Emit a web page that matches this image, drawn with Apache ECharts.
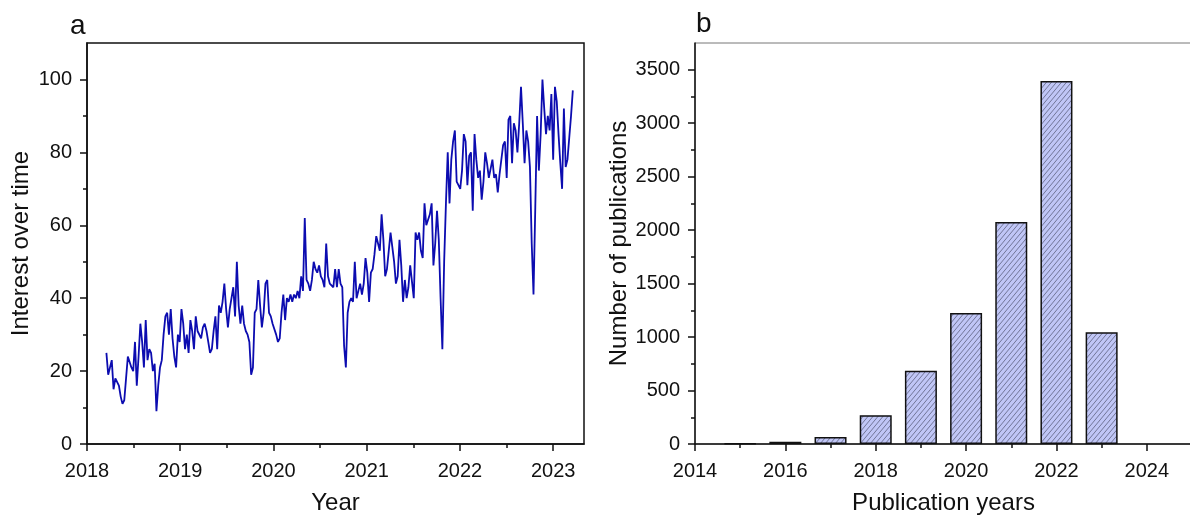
<!DOCTYPE html>
<html>
<head>
<meta charset="utf-8">
<script src="https://cdn.jsdelivr.net/npm/echarts@6/dist/echarts.min.js"></script>
<style>
html,body{margin:0;padding:0;background:#fff;}
#c{width:1190px;height:516px;}
</style>
</head>
<body>
<div id="c"></div>
<script>
// ---- Data ----
// Panel a: weekly "interest over time" (Google Trends style), first week ~ mid-March 2018
const weekStart = '2018-03-18';
const interest = [
25,19,19,23,15,18,18,16,13,11,
12,18,24,24,21,20,28,16,24,33,
28,21,34,23,26,25,20,22,9,16,
21,23,30,35,36,30,37,29,24,21,
30,28,37,33,26,30,25,34,31,26,
35,31,31,29,32,33,31,28,25,26,
31,35,26,38,36,39,44,37,32,37,
40,43,35,50,38,33,38,33,31,30,
28,19,21,36,37,45,38,32,36,44,
45,36,35,33,33,30,28,29,36,41,
34,40,39,41,39,41,40,42,40,46,
42,62,45,44,42,45,50,48,47,49,
46,45,43,55,46,44,44,43,48,43,48,
44,43,27,21,36,39,40,39,50,40,42,
44,41,44,51,47,39,47,48,52,57,
55,53,63,56,46,48,53,58,54,50,44,
46,56,49,39,45,40,43,49,49,40,
58,56,58,53,51,66,60,60,63,66,
49,55,64,56,40,26,50,66,80,66,
78,83,86,72,71,70,75,85,83,71,
79,80,64,85,78,73,75,67,72,80,77,
73,73,78,73,74,69,74,74,82,83,
73,89,90,77,88,86,80,88,98,88,
77,86,83,76,55,41,65,90,75,85,
100,92,85,90,86,96,78,98,94,85,
77,70,92,76,78,84,90,97
];
// Panel b: publications per year
const pubYears = [2015, 2016, 2017, 2018, 2019, 2020, 2021, 2022, 2023];
const pubCounts = [5, 20, 65, 270, 685, 1225, 2075, 3395, 1045];

// Tick labels
const xTicksA = [2018, 2019, 2020, 2021, 2022, 2023];
const xMinorA = [2018.5, 2019.5, 2020.5, 2021.5, 2022.5];
const yTicksA = [0, 20, 40, 60, 80, 100];
const yMinorA = [10, 30, 50, 70, 90];
const xTicksB = [2014, 2016, 2018, 2020, 2022, 2024];
const xMinorB = [2015, 2017, 2019, 2021, 2023];
const yTicksB = [0, 500, 1000, 1500, 2000, 2500, 3000, 3500];
const yMinorB = [250, 750, 1250, 1750, 2250, 2750, 3250];

// ---- Build ----
const t0 = new Date(weekStart + 'T00:00:00Z');
const y0 = Date.UTC(t0.getUTCFullYear(), 0, 1);
const yearLen = 365.25 * 86400000;
const lineData = interest.map((v, i) => {
  const t = t0.getTime() + i * 7 * 86400000;
  return [t0.getUTCFullYear() + (t - y0) / yearLen, v];
});
const barData = pubYears.map((y, i) => [y, pubCounts[i]]);

// hatch pattern
const TW = 5, TH = 6;
const pc = document.createElement('canvas');
pc.width = TW; pc.height = TH;
const g = pc.getContext('2d');
g.fillStyle = '#c0c6f6';
g.fillRect(0, 0, TW, TH);
g.strokeStyle = '#585b78';
g.lineWidth = 0.75;
g.beginPath();
g.moveTo(0, TH); g.lineTo(TW, 0);
g.moveTo(-TW, TH); g.lineTo(0, 0);
g.moveTo(TW, TH); g.lineTo(2 * TW, 0);
g.stroke();

const FONT = 'Liberation Sans, Arial, sans-serif';
const black = '#111';
const fmt = v => String(v);
const lab = {color: black, fontSize: 20, fontFamily: FONT, formatter: fmt};
const nameStyle = {color: black, fontSize: 24, fontFamily: FONT};

const chart = echarts.init(document.getElementById('c'), null, {renderer: 'canvas'});
chart.setOption({
  animation: false,
  backgroundColor: '#fff',
  title: [
    {text: 'a', left: 65, top: 7, textStyle: {fontSize: 28, fontWeight: 'normal', color: black, fontFamily: FONT}},
    {text: 'b', left: 691, top: 5, textStyle: {fontSize: 28, fontWeight: 'normal', color: black, fontFamily: FONT}}
  ],
  grid: [
    {left: 87, top: 43, right: 606, bottom: 72, show: true, borderColor: black, borderWidth: 1.5,
     containLabel: false, outerBoundsMode: 'none'},
    {left: 695, top: 43, right: -2, bottom: 72, show: true, borderColor: '#777', borderWidth: 1,
     containLabel: false, outerBoundsMode: 'none'}
  ],
  xAxis: [
    {type: 'value', gridIndex: 0, position: 'bottom', min: 2018, max: 2023.33,
     name: 'Year', nameLocation: 'middle', nameGap: 47, nameTextStyle: nameStyle,
     axisLine: {show: true, lineStyle: {color: black, width: 1.5}},
     axisTick: {show: true, length: 7, inside: false, lineStyle: {color: black, width: 1.5}, customValues: xTicksA},
     axisLabel: {show: true, margin: 17, customValues: xTicksA, ...lab},
     splitLine: {show: false}},
    {type: 'value', gridIndex: 0, position: 'bottom', min: 2018, max: 2023.33,
     axisLine: {show: false},
     axisTick: {show: true, length: 4, lineStyle: {color: black, width: 1.5}, customValues: xMinorA},
     axisLabel: {show: false}, splitLine: {show: false}},
    {type: 'value', gridIndex: 1, position: 'bottom', min: 2014, max: 2025,
     name: 'Publication years', nameLocation: 'middle', nameGap: 47, nameTextStyle: nameStyle,
     axisLine: {show: true, lineStyle: {color: black, width: 1.5}},
     axisTick: {show: true, length: 7, lineStyle: {color: black, width: 1.5}, customValues: xTicksB},
     axisLabel: {show: true, margin: 17, customValues: xTicksB, ...lab},
     splitLine: {show: false}},
    {type: 'value', gridIndex: 1, position: 'bottom', min: 2014, max: 2025,
     axisLine: {show: false},
     axisTick: {show: true, length: 4, lineStyle: {color: black, width: 1.5}, customValues: xMinorB},
     axisLabel: {show: false}, splitLine: {show: false}}
  ],
  yAxis: [
    {type: 'value', gridIndex: 0, position: 'left', min: 0, max: 110,
     name: 'Interest over time', nameLocation: 'middle', nameGap: 54, nameTextStyle: nameStyle,
     axisLine: {show: true, lineStyle: {color: black, width: 1.5}},
     axisTick: {show: true, length: 7, lineStyle: {color: black, width: 1.5}, customValues: yTicksA},
     axisLabel: {show: true, margin: 15, customValues: yTicksA, ...lab},
     splitLine: {show: false}},
    {type: 'value', gridIndex: 0, position: 'left', min: 0, max: 110,
     axisLine: {show: false},
     axisTick: {show: true, length: 4, lineStyle: {color: black, width: 1.5}, customValues: yMinorA},
     axisLabel: {show: false}, splitLine: {show: false}},
    {type: 'value', gridIndex: 1, position: 'left', min: 0, max: 3750,
     name: 'Number of publications', nameLocation: 'middle', nameGap: 61, nameTextStyle: nameStyle,
     axisLine: {show: true, lineStyle: {color: black, width: 1.5}},
     axisTick: {show: true, length: 7, lineStyle: {color: black, width: 1.5}, customValues: yTicksB},
     axisLabel: {show: true, margin: 15, customValues: yTicksB, ...lab},
     splitLine: {show: false}},
    {type: 'value', gridIndex: 1, position: 'left', min: 0, max: 3750,
     axisLine: {show: false},
     axisTick: {show: true, length: 4, lineStyle: {color: black, width: 1.5}, customValues: yMinorB},
     axisLabel: {show: false}, splitLine: {show: false}}
  ],
  series: [
    {type: 'line', xAxisIndex: 0, yAxisIndex: 0, data: lineData, showSymbol: false,
     lineStyle: {color: '#0c0cb0', width: 1.8}, z: 3},
    {type: 'bar', xAxisIndex: 2, yAxisIndex: 2, data: barData, barWidth: 32,
     itemStyle: {color: {image: pc, repeat: 'repeat'}, borderColor: black, borderWidth: 1.5}}
  ]
});
</script>
</body>
</html>
